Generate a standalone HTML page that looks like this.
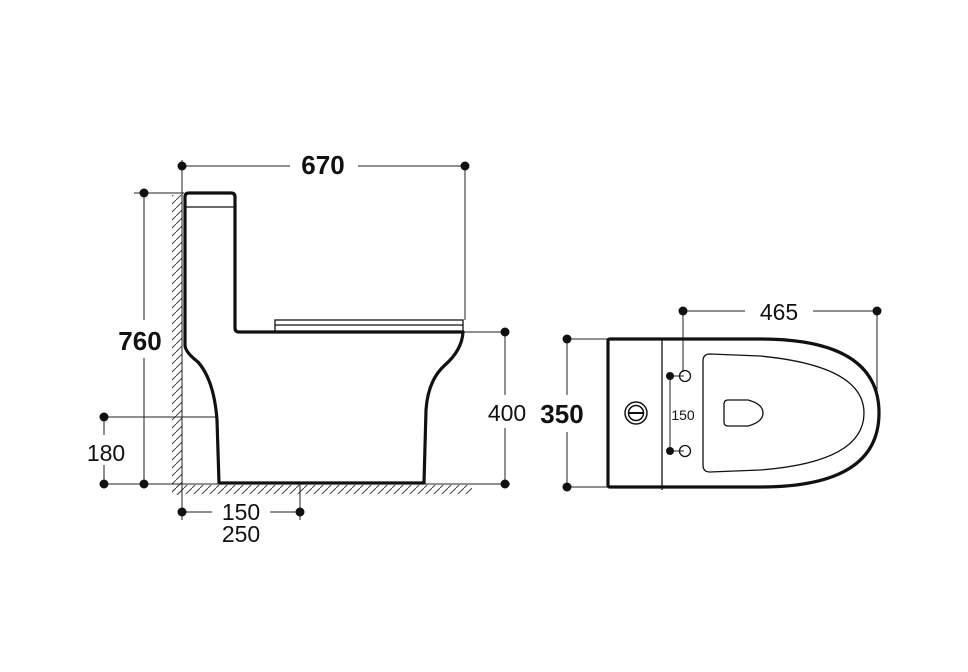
<!DOCTYPE html>
<html><head><style>body{margin:0;background:#fff}svg{display:block}</style></head><body>
<svg width="968" height="672" viewBox="0 0 968 672" xmlns="http://www.w3.org/2000/svg" font-family="Liberation Sans, sans-serif">
<defs><pattern id="h" width="8" height="8" patternUnits="userSpaceOnUse"><path d="M-2,10 L10,-2" stroke="#444" stroke-width="1"/></pattern></defs>
<g stroke="#222" stroke-width="1" fill="none">
<!-- wall & floor -->
<rect x="172" y="195" width="10" height="300" fill="url(#h)" stroke="none"/>
<rect x="172" y="485" width="300" height="9" fill="url(#h)" stroke="none"/>
<line x1="182" y1="160" x2="182" y2="520"/>
<line x1="100" y1="484" x2="510" y2="484"/>
<!-- 670 -->
<line x1="182" y1="166" x2="290" y2="166"/><line x1="358" y1="166" x2="465" y2="166"/>
<line x1="465" y1="166" x2="465" y2="320"/>
<!-- 760 -->
<line x1="134" y1="193" x2="184" y2="193"/><line x1="144" y1="193" x2="144" y2="320"/><line x1="144" y1="358" x2="144" y2="484"/>
<!-- 180 -->
<line x1="104" y1="417" x2="217" y2="417"/><line x1="104" y1="417" x2="104" y2="435"/><line x1="104" y1="465" x2="104" y2="484"/>
<!-- 400 -->
<line x1="463" y1="332" x2="505" y2="332"/><line x1="505" y1="332" x2="505" y2="395"/><line x1="505" y1="428" x2="505" y2="484"/>
<!-- 150 -->
<line x1="182" y1="512" x2="212" y2="512"/><line x1="270" y1="512" x2="300" y2="512"/><line x1="300" y1="484" x2="300" y2="520"/>
</g>
<!-- toilet side -->
<g stroke="#111" stroke-width="3.2" fill="none" stroke-linejoin="round">
<path d="M185,345 L185,197 Q185,193 189,193 L231,193 Q235,193 235,197 L235,328 Q235,332 239,332 L463,332 Q462,350 445,365 Q428,380 426,410 L424,483 L219,483 L217,420 Q214,380 198,362 Q185,352 185,345 Z"/>
</g>
<g stroke="#111" stroke-width="1.3" fill="none">
<line x1="186" y1="207" x2="234" y2="207"/>
<rect x="275" y="320" width="188" height="11" fill="#fff"/>
<line x1="275" y1="325" x2="463" y2="325"/>
</g>
<!-- top view -->
<g stroke="#222" stroke-width="1" fill="none">
<line x1="683" y1="311" x2="745" y2="311"/><line x1="813" y1="311" x2="877" y2="311"/>
<line x1="683" y1="311" x2="683" y2="372"/><line x1="877" y1="311" x2="877" y2="392"/>
<line x1="563" y1="339" x2="610" y2="339"/><line x1="563" y1="487" x2="610" y2="487"/>
<line x1="567" y1="339" x2="567" y2="395"/><line x1="567" y1="432" x2="567" y2="487"/>
<line x1="670" y1="376" x2="670" y2="451"/>
<line x1="670" y1="376" x2="684" y2="376"/><line x1="670" y1="451" x2="684" y2="451"/>
</g>
<g stroke="#111" fill="none">
<path d="M610,339 L760,339 Q879,339 879,413 Q879,487 760,487 L610,487 Q608,487 608,485 L608,341 Q608,339 610,339 Z" stroke-width="3.2"/>
<line x1="662" y1="339" x2="662" y2="490" stroke-width="1.3"/>
<path d="M710,354 L760,356 Q864,366 864,413 Q864,462 760,470 L710,472 Q703,472 703,465 L703,361 Q703,354 710,354 Z" stroke-width="1.3"/>
<path d="M728,400 L748,400 Q763,404 763,413 Q763,422 748,426 L728,426 Q724,426 724,422 L724,404 Q724,400 728,400 Z" stroke-width="1.3"/>
<circle cx="685" cy="376" r="5.5" stroke-width="1.3"/><circle cx="685" cy="451" r="5.5" stroke-width="1.3"/>
<circle cx="636" cy="413" r="11" stroke-width="1.5"/><circle cx="636" cy="413" r="7.5" stroke-width="1.5"/>
<line x1="629" y1="413" x2="643" y2="413" stroke-width="2"/>
</g>
<!-- dots -->
<g fill="#111">
<circle cx="182" cy="166" r="4.5"/><circle cx="465" cy="166" r="4.5"/>
<circle cx="144" cy="193" r="4.5"/><circle cx="144" cy="484" r="4.5"/>
<circle cx="104" cy="417" r="4.5"/><circle cx="104" cy="484" r="4.5"/>
<circle cx="505" cy="332" r="4.5"/><circle cx="505" cy="484" r="4.5"/>
<circle cx="182" cy="512" r="4.5"/><circle cx="300" cy="512" r="4.5"/>
<circle cx="683" cy="311" r="4.5"/><circle cx="877" cy="311" r="4.5"/>
<circle cx="567" cy="339" r="4.5"/><circle cx="567" cy="487" r="4.5"/>
<circle cx="670" cy="376" r="4"/><circle cx="670" cy="451" r="4"/>
</g>
<g fill="#111">
<text x="323" y="174" font-size="26" font-weight="bold" text-anchor="middle">670</text>
<text x="140" y="350" font-size="26" font-weight="bold" text-anchor="middle">760</text>
<text x="106" y="461" font-size="23" text-anchor="middle">180</text>
<text x="507" y="421" font-size="23" text-anchor="middle">400</text>
<text x="241" y="520" font-size="23" text-anchor="middle">150</text>
<text x="241" y="542" font-size="23" text-anchor="middle">250</text>
<text x="779" y="320" font-size="23" text-anchor="middle">465</text>
<text x="562" y="423" font-size="26" font-weight="bold" text-anchor="middle">350</text>
<text x="683" y="420" font-size="14" text-anchor="middle">150</text>
</g>
</svg>
</body></html>
